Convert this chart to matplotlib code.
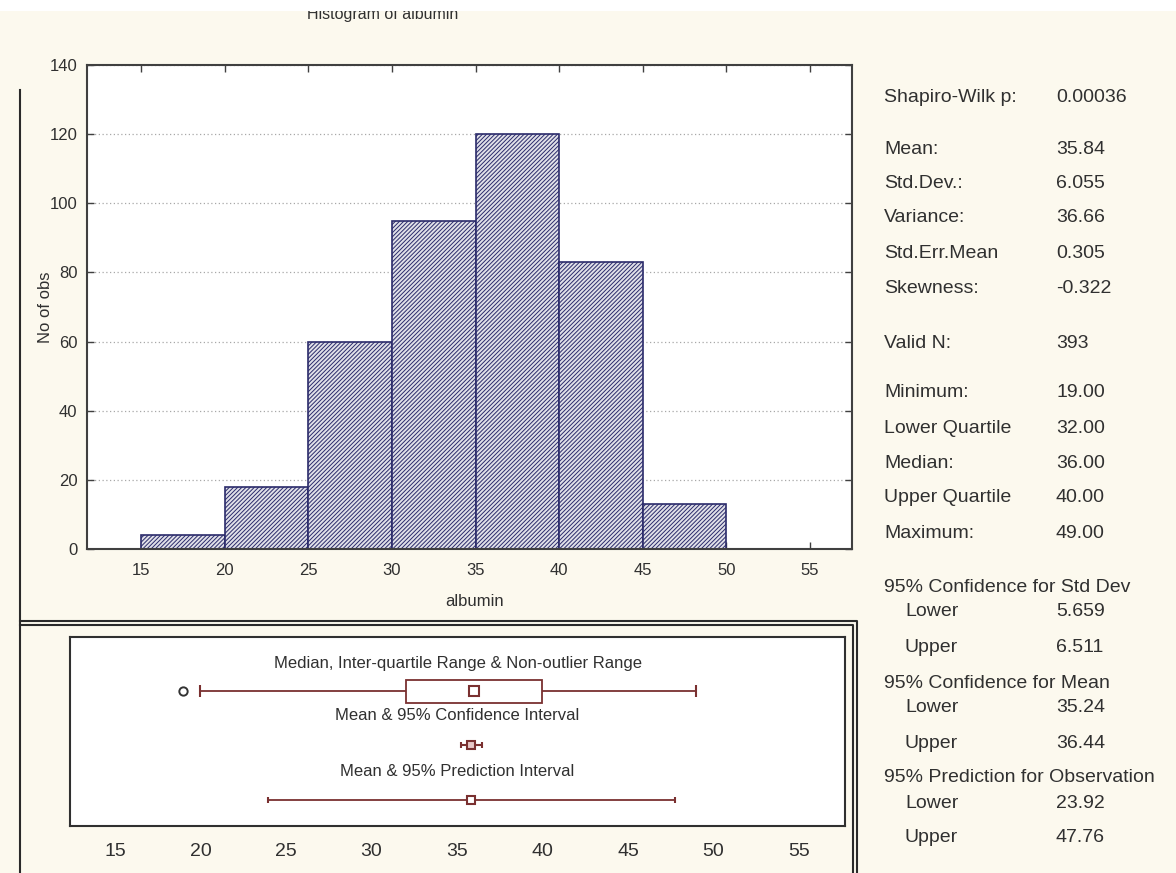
import matplotlib
matplotlib.use("Agg")
import matplotlib.pyplot as plt
from matplotlib.lines import Line2D
from matplotlib.patches import Rectangle
import numpy as np

plt.rcParams['font.family'] = ['Liberation Sans', 'DejaVu Sans']
plt.rcParams['hatch.linewidth'] = 0.7

# ---- data ----
bin_edges = [15, 20, 25, 30, 35, 40, 45, 50]
counts = [4, 18, 60, 95, 120, 83, 13]
hist_xticks = [15, 20, 25, 30, 35, 40, 45, 50, 55]
hist_yticks = [0, 20, 40, 60, 80, 100, 120, 140]
box_xticks = [15, 20, 25, 30, 35, 40, 45, 50, 55]

minimum = 19.0
lower_quartile = 32.0
median = 36.0
upper_quartile = 40.0
maximum = 49.0
nonoutlier_low = 20.0
outliers = [19.0]
mean = 35.84
ci_mean = [35.24, 36.44]
pred_obs = [23.92, 47.76]

stat_labels = ["Shapiro-Wilk p:", "Mean:", "Std.Dev.:", "Variance:", "Std.Err.Mean",
               "Skewness:", "Valid N:", "Minimum:", "Lower Quartile", "Median:",
               "Upper Quartile", "Maximum:", "95% Confidence for Std Dev", "Lower",
               "Upper", "95% Confidence for Mean", "Lower", "Upper",
               "95% Prediction for Observation", "Lower", "Upper"]
stat_values = ["0.00036", "35.84", "6.055", "36.66", "0.305", "-0.322", "393",
               "19.00", "32.00", "36.00", "40.00", "49.00", "", "5.659", "6.511",
               "", "35.24", "36.44", "", "23.92", "47.76"]
stat_indent = [False] * 12 + [False, True, True, False, True, True, False, True, True]

# ---- layout (pixels) ----
W, H = 1176, 873
stat_rows_y = [98, 150, 183, 218, 253, 289, 343, 393, 428, 464, 497, 533,
               587, 612, 647, 683, 708, 743, 778, 803, 838]


def fx(x):
    return x / W


def fy(y):
    return 1 - y / H


bg = '#fcf9ee'
ink = '#303030'
maroon = '#7a3030'
navy = '#2b2b6b'

fig = plt.figure(figsize=(W / 100, H / 100), dpi=100, facecolor=bg)

# ---- histogram ----
ax = fig.add_axes([fx(87), fy(549), (852 - 87) / W, (549 - 65) / H])
ax.set_facecolor('white')
ax.bar(bin_edges[:-1], counts, width=np.diff(bin_edges), align='edge',
       facecolor='#e0e0e8', edgecolor=navy, hatch='////////', linewidth=1.2,
       zorder=2)
ax.set_xlim(11.77, 57.51)
ax.set_ylim(0, 140)
ax.set_xticks(hist_xticks)
ax.set_yticks(hist_yticks)
ax.tick_params(direction='in', top=True, right=True, length=5, width=1,
               labelsize=12, labelcolor=ink, color='#404040')
ax.tick_params(axis='x', pad=10)
ax.tick_params(axis='y', pad=7)
ax.yaxis.grid(True, linestyle=(0, (1, 2)), color='#a8a8a8', linewidth=0.9)
ax.set_axisbelow(True)
for s in ax.spines.values():
    s.set_color('#404040')
    s.set_linewidth(1.5)

fig.text(fx(475), fy(602), "albumin", fontsize=12, color=ink, ha='center', va='center')
fig.text(fx(45), fy(307), "No of obs", fontsize=12, color=ink, ha='center',
         va='center', rotation=90)
fig.text(fx(383), fy(15), "Histogram of albumin", fontsize=11.5, color=ink,
         ha='center', va='center')
fig.patches.append(Rectangle((0, fy(11)), 1, 11 / H, transform=fig.transFigure,
                             facecolor='white', edgecolor='none', zorder=10))

# ---- box / interval panel ----
bx = fig.add_axes([fx(70), fy(826), (845 - 70) / W, (826 - 637) / H])
bx.set_facecolor('white')
bx.set_xlim(12.37, 57.69)
bx.set_ylim(0, 1)
bx.set_yticks([])
bx.set_xticks(box_xticks)
bx.tick_params(axis='x', length=0, labelsize=14, pad=12, labelcolor=ink)
for s in bx.spines.values():
    s.set_color('#303030')
    s.set_linewidth(1.5)

y1, y2, y3 = 0.712, 0.429, 0.138
bx.text(0.5, 0.862, "Median, Inter-quartile Range & Non-outlier Range",
        transform=bx.transAxes, ha='center', va='center', fontsize=12, color=ink)
bx.text(0.5, 0.587, "Mean & 95% Confidence Interval",
        transform=bx.transAxes, ha='center', va='center', fontsize=12, color=ink)
bx.text(0.5, 0.291, "Mean & 95% Prediction Interval",
        transform=bx.transAxes, ha='center', va='center', fontsize=12, color=ink)

# median, quartile box and non-outlier whiskers
bx.hlines(y1, nonoutlier_low, lower_quartile, color=maroon, lw=1.3)
bx.hlines(y1, upper_quartile, maximum, color=maroon, lw=1.3)
bx.vlines([nonoutlier_low, maximum], y1 - 0.032, y1 + 0.032, color=maroon, lw=1.5)
bx.add_patch(Rectangle((lower_quartile, y1 - 0.061), upper_quartile - lower_quartile,
                       0.122, facecolor='white', edgecolor=maroon, lw=1.3, zorder=2))
bx.plot([median], [y1], 's', ms=6.5, mfc='white', mec=maroon, mew=1.5, zorder=3)
bx.plot(outliers, [y1] * len(outliers), 'o', ms=6, mfc='white', mec='#333333',
        mew=1.4, zorder=3)

# mean with confidence interval
bx.errorbar([mean], [y2], xerr=[[mean - ci_mean[0]], [ci_mean[1] - mean]], fmt='s',
            ms=6, mfc='#e8c8c8', mec=maroon, mew=1.5, ecolor=maroon, elinewidth=1.5,
            capsize=2.5, capthick=1.2, zorder=3)

# mean with prediction interval
bx.errorbar([mean], [y3], xerr=[[mean - pred_obs[0]], [pred_obs[1] - mean]], fmt='s',
            ms=6, mfc='white', mec=maroon, mew=1.5, ecolor=maroon, elinewidth=1.3,
            capsize=2, capthick=1.0, zorder=3)

# ---- statistics column ----
for lab, val, ind, yy in zip(stat_labels, stat_values, stat_indent, stat_rows_y):
    fig.text(fx(905 if ind else 884), fy(yy), lab, fontsize=14, color=ink,
             ha='left', va='center')
    if val:
        fig.text(fx(1056), fy(yy), val, fontsize=14, color=ink, ha='left', va='center')

# ---- panel frames ----
frame = '#2a2a2a'
fig.add_artist(Line2D([fx(20), fx(20)], [fy(90), fy(873)], color=frame, lw=1.5,
                      transform=fig.transFigure))
fig.add_artist(Line2D([fx(20), fx(857), fx(857)], [fy(621), fy(621), fy(873)],
                      color=frame, lw=1.5, transform=fig.transFigure))
fig.add_artist(Line2D([fx(20), fx(853), fx(853)], [fy(625), fy(625), fy(873)],
                      color=frame, lw=1.5, transform=fig.transFigure))

fig.savefig("out.png", dpi=100, facecolor=bg)
